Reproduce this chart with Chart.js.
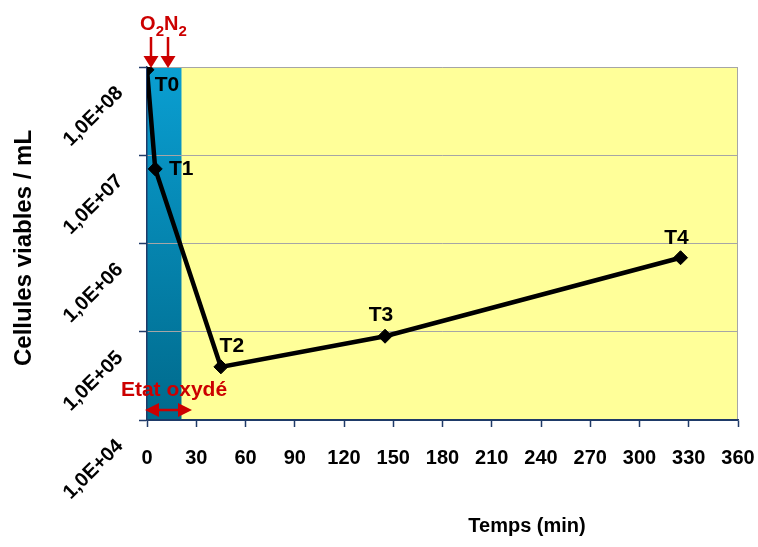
<!DOCTYPE html>
<html>
<head>
<meta charset="utf-8">
<script src="https://cdn.jsdelivr.net/npm/chart.js@4.4.0/dist/chart.umd.min.js"></script>
<style>
  html, body { margin: 0; padding: 0; background: #fff; }
  canvas { display: block; }
</style>
</head>
<body>
<canvas id="cellChart" width="758" height="547"></canvas>
<script>
// sampling times (min) and viable cell counts
const times = [0, 5, 45, 145, 325];
const cells = [9.3e7, 7.0e6, 4.0e4, 8.9e4, 6.9e5];
const pointNames = ["T0", "T1", "T2", "T3", "T4"];

const xTicks = [0, 30, 60, 90, 120, 150, 180, 210, 240, 270, 300, 330, 360];
const yTicks = [1e4, 1e5, 1e6, 1e7, 1e8];
const yTickLabels = ["1,0E+04", "1,0E+05", "1,0E+06", "1,0E+07", "1,0E+08"];

// oxidized phase (min) and gas injection times (min)
const oxidizedPhase = [0, 21];
const gasNames = ["O", "N"];
const gasTimes = [2.5, 12.5];

const FONT = "'Liberation Sans', Arial, sans-serif";
const RED = "#cc0000";
const NAVY = "#1f3a68";
const GRID = "#a6a6a6";

// label offsets for T0..T4 (px)
const nameOffsets = [[20, 15], [26, 0], [11, -21], [-4, -21], [-4, -20]];

function drawArrowHead(ctx, x, y, dir, len, half) {
      ctx.beginPath();
      ctx.moveTo(x, y);
      ctx.lineTo(x - dir * len, y - half);
      ctx.lineTo(x - dir * len, y + half);
      ctx.closePath();
      ctx.fill();
}

const decorations = {
      id: "decorations",
      beforeDraw(chart) {
            const { ctx, chartArea: a, scales } = chart;
            const x = scales.x;
            ctx.save();
            ctx.fillStyle = "#ffff99";
            ctx.fillRect(a.left, a.top, a.right - a.left, a.bottom - a.top);

            const x0 = x.getPixelForValue(oxidizedPhase[0]);
            const x1 = x.getPixelForValue(oxidizedPhase[1]);
            const grad = ctx.createLinearGradient(0, a.top, 0, a.bottom);
            grad.addColorStop(0, "#0a9fd2");
            grad.addColorStop(1, "#006a8c");
            ctx.fillStyle = grad;
            ctx.fillRect(x0, a.top, x1 - x0, a.bottom - a.top);

            ctx.strokeStyle = GRID;
            ctx.lineWidth = 1;
            ctx.beginPath();
            ctx.moveTo(a.right - 0.5, a.top);
            ctx.lineTo(a.right - 0.5, a.bottom);
            ctx.stroke();
            ctx.restore();
      },
      afterDraw(chart) {
            const { ctx, chartArea: a, scales } = chart;
            const x = scales.x;
            ctx.save();

            // point names
            const meta = chart.getDatasetMeta(0);
            ctx.fillStyle = "#000";
            ctx.font = "bold 21px " + FONT;
            ctx.textAlign = "center";
            ctx.textBaseline = "middle";
            meta.data.forEach((pt, i) => {
                  ctx.fillText(pointNames[i], pt.x + nameOffsets[i][0], pt.y + nameOffsets[i][1]);
            });

            // axis titles
            ctx.font = "bold 20px " + FONT;
            ctx.fillText("Temps (min)", 527, 526);
            ctx.save();
            ctx.font = "bold 24px " + FONT;
            ctx.translate(24, 248);
            ctx.rotate(-Math.PI / 2);
            ctx.fillText("Cellules viables / mL", 0, 0);
            ctx.restore();

            // gas arrows
            ctx.fillStyle = RED;
            ctx.strokeStyle = RED;
            ctx.lineWidth = 2.5;
            gasTimes.forEach((t) => {
                  const px = Math.round(x.getPixelForValue(t));
                  ctx.beginPath();
                  ctx.moveTo(px, 37);
                  ctx.lineTo(px, 58);
                  ctx.stroke();
                  ctx.beginPath();
                  ctx.moveTo(px - 7.5, 56);
                  ctx.lineTo(px + 7.5, 56);
                  ctx.lineTo(px, a.top + 1);
                  ctx.closePath();
                  ctx.fill();
            });

            // O2 N2 text
            let tx = x.getPixelForValue(gasTimes[0]) - 11;
            ctx.textAlign = "left";
            ctx.textBaseline = "alphabetic";
            gasNames.forEach((g) => {
                  ctx.font = "bold 20px " + FONT;
                  ctx.fillText(g, tx, 30);
                  tx += ctx.measureText(g).width;
                  ctx.font = "bold 15px " + FONT;
                  ctx.fillText("2", tx, 36);
                  tx += ctx.measureText("2").width;
            });

            // Etat oxydé
            const x0 = x.getPixelForValue(oxidizedPhase[0]);
            ctx.font = "bold 21px " + FONT;
            ctx.textAlign = "center";
            ctx.fillText("Etat oxydé", x0 + 27, 396);
            const ay = 410;
            const ax0 = x0 - 2;
            const ax1 = x0 + 45;
            ctx.lineWidth = 2.5;
            ctx.beginPath();
            ctx.moveTo(ax0 + 10, ay);
            ctx.lineTo(ax1 - 10, ay);
            ctx.stroke();
            drawArrowHead(ctx, ax0, ay, -1, 14, 7);
            drawArrowHead(ctx, ax1, ay, 1, 14, 7);

            ctx.restore();
      },
};

const ctx = document.getElementById("cellChart");

new Chart(ctx, {
      type: "line",
      data: {
            datasets: [
                  {
                        data: times.map((t, i) => ({ x: t, y: cells[i] })),
                        borderColor: "#000",
                        borderWidth: 4.5,
                        pointStyle: "rectRot",
                        pointRadius: 7,
                        pointBackgroundColor: "#000",
                        pointBorderColor: "#000",
                        pointBorderWidth: 1,
                        tension: 0,
                  },
            ],
      },
      options: {
            responsive: false,
            animation: false,
            layout: { padding: { top: 67, right: 20, left: 0, bottom: 0 } },
            plugins: {
                  legend: { display: false },
                  tooltip: { enabled: false },
            },
            scales: {
                  x: {
                        type: "linear",
                        min: 0,
                        max: 360,
                        afterBuildTicks: (scale) => {
                              scale.ticks = xTicks.map((v) => ({ value: v }));
                        },
                        afterFit: (scale) => {
                              scale.height = 127;
                              scale.paddingLeft = 0;
                              scale.paddingRight = 0;
                        },
                        grid: {
                              drawOnChartArea: false,
                              drawTicks: true,
                              tickLength: 7,
                              tickColor: NAVY,
                              tickWidth: 1.5,
                        },
                        border: { color: NAVY, width: 1.5 },
                        ticks: {
                              color: "#000",
                              padding: 19,
                              maxRotation: 0,
                              autoSkip: false,
                              font: { family: FONT, size: 20, weight: "bold" },
                        },
                  },
                  y: {
                        type: "logarithmic",
                        min: 1e4,
                        max: 1e8,
                        afterBuildTicks: (scale) => {
                              scale.ticks = yTicks.map((v) => ({ value: v, major: true }));
                        },
                        afterFit: (scale) => {
                              scale.width = 147;
                              scale.paddingTop = 0;
                              scale.paddingBottom = 0;
                        },
                        grid: {
                              color: (c) => (c.tick && c.tick.value === 1e4 ? NAVY : GRID),
                              tickLength: 8,
                              tickColor: NAVY,
                              tickWidth: 1.5,
                        },
                        border: { color: NAVY, width: 1.5 },
                        ticks: {
                              color: "#000",
                              padding: 19,
                              minRotation: 45,
                              maxRotation: 45,
                              labelOffset: 23,
                              autoSkip: false,
                              font: { family: FONT, size: 20, weight: "bold" },
                              callback: (value) => yTickLabels[yTicks.indexOf(value)],
                        },
                  },
            },
      },
      plugins: [decorations],
});
</script>
</body>
</html>
